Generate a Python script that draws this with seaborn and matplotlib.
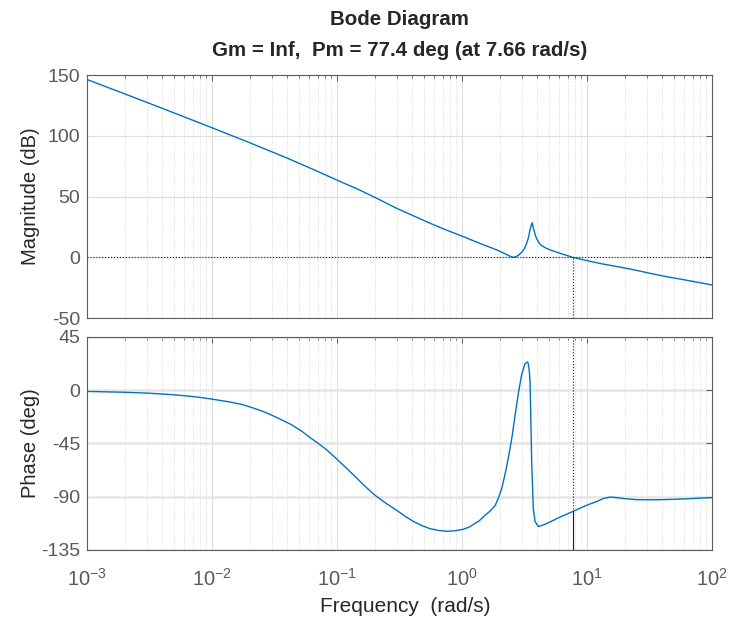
import numpy as np
import pandas as pd
import seaborn as sns
import matplotlib
matplotlib.use("Agg")
import matplotlib.pyplot as plt
from matplotlib.ticker import LogLocator, NullFormatter, FixedLocator

# magnitude curve (rad/s, dB)
freq_mag = [0.001, 0.002, 0.004, 0.01, 0.02, 0.04, 0.07, 0.1, 0.15, 0.22,
            0.30, 0.42, 0.555, 0.75, 1.025, 1.4, 1.895, 2.1, 2.28, 2.42,
            2.50, 2.57, 2.65, 2.74, 2.87, 3.0, 3.15, 3.28, 3.40, 3.49,
            3.57, 3.65, 3.70, 3.77, 3.85, 3.96, 4.15, 4.34, 4.70, 5.06,
            6.08, 7.66, 9.94, 13.0, 17.3, 24.0, 31.9, 43.0, 58.9, 78.0, 100]
mag_db = [146.3, 134.5, 122.6, 106.6, 94.3, 81.6, 70.7, 63.5, 55.6, 47.3,
          40.3, 33.6, 28.0, 22.4, 17.0, 11.3, 6.1, 4.0, 2.2, 0.9,
          0.3, 0.0, 0.2, 0.8, 2.2, 4.1, 6.8, 11.0, 16.0, 22.0,
          26.0, 28.5, 25.0, 22.0, 18.5, 15.2, 11.5, 9.6, 7.5, 6.1,
          3.3, 0.0, -2.7, -5.3, -7.6, -10.4, -13.2, -15.9, -18.4, -20.7, -22.8]

# phase curve (rad/s, deg)
freq_phase = [0.001, 0.002, 0.003, 0.0045, 0.0061, 0.008, 0.01, 0.0135, 0.017, 0.02,
              0.025, 0.03, 0.036, 0.043, 0.052, 0.062, 0.072, 0.083, 0.098, 0.116,
              0.14, 0.165, 0.20, 0.25, 0.30, 0.35, 0.41, 0.48, 0.555, 0.65,
              0.754, 0.88, 1.025, 1.15, 1.25, 1.37, 1.48, 1.60, 1.70, 1.84,
              1.95, 2.08, 2.21, 2.35, 2.50, 2.66, 2.82, 3.0, 3.19, 3.33,
              3.38, 3.45, 3.50, 3.54, 3.61, 3.72, 3.84, 4.08, 4.55, 5.06,
              6.0, 7.66, 9.94, 12.0, 13.5, 15.3, 17.0, 19.5, 25.0, 35.0,
              50.0, 70.0, 100]
phase_deg = [-1.0, -1.7, -2.4, -3.5, -4.7, -6.0, -7.5, -9.7, -11.8, -14.0,
             -17.5, -21.0, -25.0, -29.0, -34.5, -40.6, -45.5, -50.5, -57.5, -64.7,
             -73.0, -80.5, -88.5, -96.0, -101.4, -106.5, -111.0, -114.5, -117.0, -118.5,
             -119.2, -118.8, -117.5, -115.5, -113.0, -110.5, -107.0, -104.0, -101.5, -97.5,
             -91.5, -83.0, -71.0, -57.0, -41.0, -21.0, -3.0, 13.0, 22.5, 23.8,
             23.0, 17.0, 8.0, -15.0, -60.0, -100.0, -111.0, -115.2, -113.6, -111.3,
             -107.5, -102.6, -97.2, -94.0, -91.5, -90.3, -90.6, -91.5, -92.5, -92.6,
             -92.2, -91.5, -90.7]

mag_ticks = [-50, 0, 50, 100, 150]
phase_ticks = [-135, -90, -45, 0, 45]
freq_range = (1e-3, 1e2)

wc = 7.66   # gain crossover (rad/s)
pm = 77.4   # phase margin (deg)

mag_df = pd.DataFrame({"freq": freq_mag, "mag": mag_db})
phase_df = pd.DataFrame({"freq": freq_phase, "phase": phase_deg})

sns.set_theme(style="white")
plt.rcParams["font.family"] = ["Liberation Sans", "DejaVu Sans"]
plt.rcParams["mathtext.default"] = "regular"
plt.rcParams["axes.unicode_minus"] = False

blue = "#0072BD"
edge = "#5a5a5a"
tick_txt = "#595959"
label_txt = "#262626"

fig = plt.figure(figsize=(7.31, 6.22), dpi=100)
ax1 = fig.add_axes([0.119, 0.4887, 0.855, 0.3907])
ax2 = fig.add_axes([0.119, 0.1158, 0.855, 0.3424])

sns.lineplot(data=mag_df, x="freq", y="mag", ax=ax1, color=blue, lw=1.0,
             estimator=None, sort=False)
sns.lineplot(data=phase_df, x="freq", y="phase", ax=ax2, color=blue, lw=1.0,
             estimator=None, sort=False)

for ax, ticks in [(ax1, mag_ticks), (ax2, phase_ticks)]:
    ax.set_xscale("log")
    ax.set_xlim(*freq_range)
    ax.set_ylim(ticks[0], ticks[-1])
    ax.yaxis.set_major_locator(FixedLocator(ticks))
    ax.xaxis.set_major_locator(LogLocator(base=10, numticks=10))
    ax.xaxis.set_minor_locator(LogLocator(base=10, subs=np.arange(2, 10), numticks=20))
    ax.xaxis.set_minor_formatter(NullFormatter())
    ax.grid(which="major", axis="x", color="#dedede", lw=0.8)
    ax.grid(which="minor", axis="x", color="#cfcfcf", lw=0.6, ls=":")
    ax.tick_params(which="both", direction="in", top=True, right=True,
                   color=edge, labelcolor=tick_txt, labelsize=14)
    ax.tick_params(which="major", length=4.5, width=0.7)
    ax.tick_params(which="minor", length=2.5, width=0.6)
    ax.tick_params(axis="x", pad=13, labelsize=14.5)
    ax.tick_params(axis="y", pad=5)
    for s in ax.spines.values():
        s.set_color(edge)
        s.set_linewidth(0.8)
    ax.set_xlabel("")
    ax.set_ylabel("")

ax1.grid(which="major", axis="y", color="#dedede", lw=0.8)
ax2.grid(which="major", axis="y", color="#e6e6e6", lw=1.8)
ax1.tick_params(labelbottom=False)

# margin markers
ax1.axhline(0, color="k", ls=":", lw=0.8)
ax1.plot([wc, wc], [mag_ticks[0], 0], color="k", ls=":", lw=0.8)
ax2.plot([wc, wc], [phase_ticks[-1], pm - 180], color="k", ls=":", lw=0.8)
ax2.plot([wc, wc], [-180, pm - 180], color="k", ls="-", lw=0.8)

ax1.set_title(f"Bode Diagram\nGm = Inf,  Pm = {pm} deg (at {wc} rad/s)",
              fontsize=14.8, fontweight="bold", pad=14, linespacing=1.75)
ax1.set_ylabel("Magnitude (dB)", fontsize=14.5, color=label_txt)
ax2.set_ylabel("Phase (deg)", fontsize=14.5, color=label_txt)
ax1.yaxis.set_label_coords(-0.075, 0.5)
ax2.yaxis.set_label_coords(-0.075, 0.5)
ax2.set_xlabel("Frequency  (rad/s)", fontsize=15, color=label_txt)
ax2.xaxis.set_label_coords(0.51, -0.222)

fig.savefig("out.png", dpi=100)
